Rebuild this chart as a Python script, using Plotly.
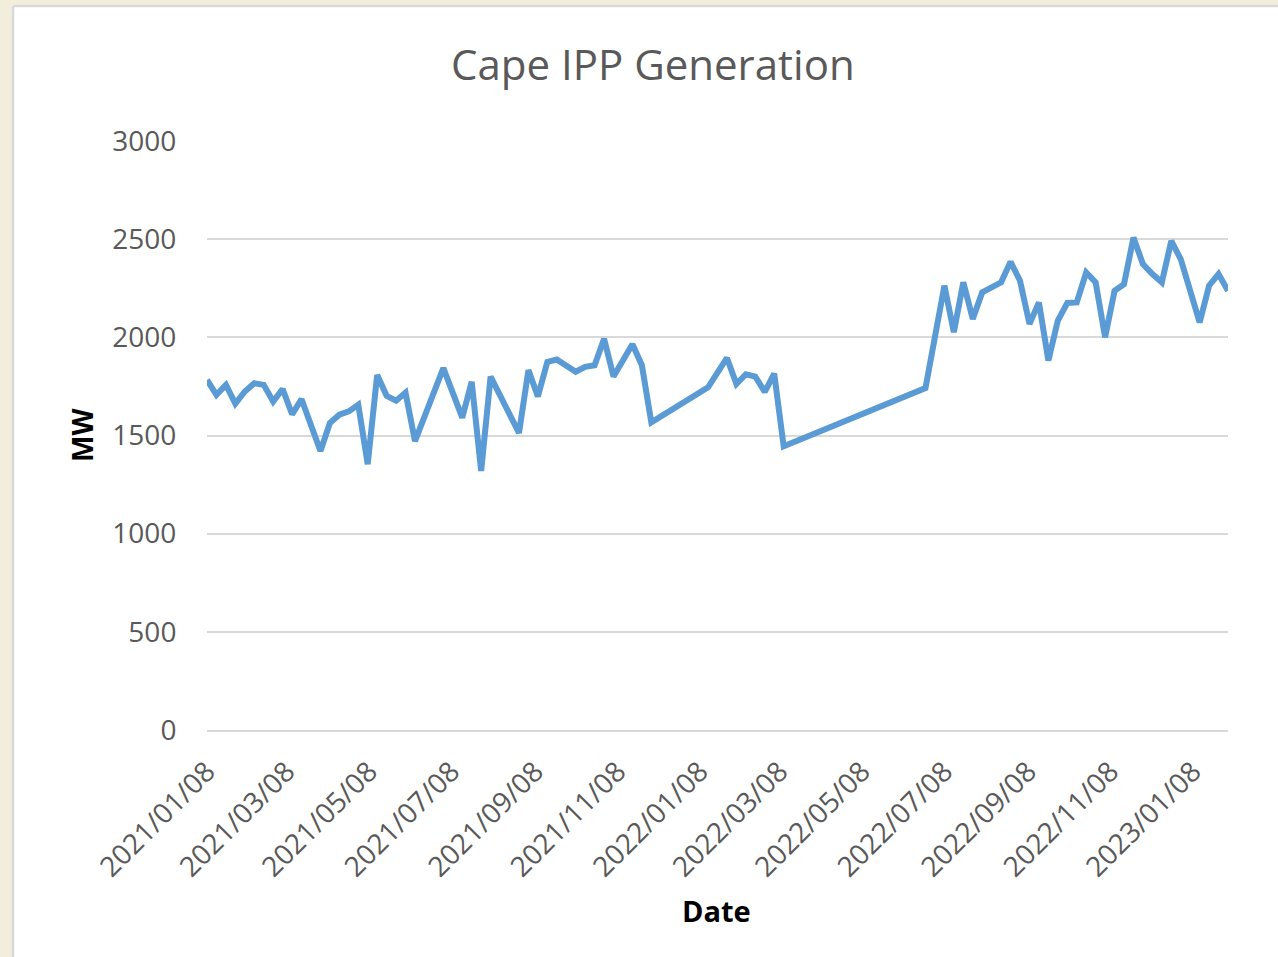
import plotly.graph_objects as go

# Data (weekly readings, MW)
dates = [
    "2021-01-08", "2021-01-15", "2021-01-22", "2021-01-29", "2021-02-05", "2021-02-12",
    "2021-02-19", "2021-02-26", "2021-03-05", "2021-03-12", "2021-03-19", "2021-04-02",
    "2021-04-09", "2021-04-16", "2021-04-23", "2021-04-30", "2021-05-07", "2021-05-14",
    "2021-05-21", "2021-05-28", "2021-06-04", "2021-06-11", "2021-07-02", "2021-07-16",
    "2021-07-23", "2021-07-30", "2021-08-06", "2021-08-27", "2021-09-03", "2021-09-10",
    "2021-09-17", "2021-09-24", "2021-10-08", "2021-10-15", "2021-10-22", "2021-10-29",
    "2021-11-05", "2021-11-19", "2021-11-26", "2021-12-03", "2022-01-14", "2022-01-28",
    "2022-02-04", "2022-02-11", "2022-02-18", "2022-02-25", "2022-03-04", "2022-03-11",
    "2022-06-24", "2022-07-08", "2022-07-15", "2022-07-22", "2022-07-29", "2022-08-05",
    "2022-08-19", "2022-08-26", "2022-09-02", "2022-09-09", "2022-09-16", "2022-09-23",
    "2022-09-30", "2022-10-07", "2022-10-14", "2022-10-21", "2022-10-28", "2022-11-04",
    "2022-11-11", "2022-11-18", "2022-11-25", "2022-12-02", "2022-12-09", "2022-12-16",
    "2022-12-23", "2022-12-30", "2023-01-13", "2023-01-20", "2023-01-27", "2023-02-03",
]
mw = [
    1783, 1707, 1758, 1662, 1724, 1766,
    1758, 1673, 1737, 1608, 1685, 1421,
    1564, 1606, 1623, 1657, 1354, 1808,
    1702, 1677, 1718, 1471, 1843, 1591,
    1774, 1320, 1800, 1513, 1833, 1699,
    1875, 1887, 1825, 1850, 1858, 1993,
    1800, 1965, 1858, 1567, 1745, 1895,
    1762, 1812, 1800, 1722, 1815, 1445,
    1742, 2263, 2026, 2280, 2094, 2229,
    2280, 2385, 2288, 2068, 2178, 1882,
    2085, 2175, 2178, 2330, 2280, 2000,
    2237, 2271, 2508, 2373, 2322, 2280,
    2491, 2398, 2076, 2263, 2322, 2237,
]

title_text = "Cape IPP Generation"
x_title = "Date"
y_title = "MW"

W, H = 1278, 957
L, R, T, B = 207, 50, 141, 227
PW, PH = W - L - R, H - T - B


def px(x):
    return (x - L) / PW


def py(y):
    return (H - B - y) / PH


fig = go.Figure()
fig.add_trace(go.Scatter(
    x=dates, y=mw, mode="lines",
    line=dict(color="#5b9bd5", width=6),
    showlegend=False,
))

font = "Open Sans, DejaVu Sans, sans-serif"

fig.update_layout(
    width=W, height=H,
    margin=dict(l=L, r=R, t=T, b=B, pad=0),
    paper_bgcolor="white",
    plot_bgcolor="white",
    font=dict(family=font, color="#595959"),
    xaxis=dict(
        type="date",
        range=["2021-01-08", "2023-02-03"],
        tick0="2021-01-08", dtick="M2",
        tickformat="%Y/%m/%d",
        tickangle=-45,
        tickfont=dict(size=28, color="#595959"),
        ticks="outside", ticklen=12, tickcolor="rgba(0,0,0,0)",
        showgrid=False, zeroline=False,
        showline=True, linecolor="#d9d9d9", linewidth=2,
    ),
    yaxis=dict(
        range=[0, 3000], dtick=500, tick0=0,
        tickfont=dict(size=28, color="#595959"),
        ticks="outside", ticklen=24, tickcolor="rgba(0,0,0,0)",
        showgrid=True, gridcolor="#d9d9d9", gridwidth=2,
        zeroline=False, showline=False,
    ),
    annotations=[
        dict(text=title_text, x=px(653), y=py(64), xref="paper", yref="paper",
             showarrow=False, xanchor="center", yanchor="middle",
             font=dict(size=42, color="#595959", family=font)),
        dict(text="<b>" + x_title + "</b>", x=px(716), y=py(910), xref="paper", yref="paper",
             showarrow=False, xanchor="center", yanchor="middle",
             font=dict(size=29, color="#000000", family=font)),
        dict(text="<b>" + y_title + "</b>", x=px(82), y=py(435), xref="paper", yref="paper",
             showarrow=False, xanchor="center", yanchor="middle", textangle=-90,
             font=dict(size=28, color="#000000", family=font)),
    ],
    shapes=[
        # faint background outside the chart area
        dict(type="rect", xref="paper", yref="paper", x0=px(0), x1=px(12), y0=py(H), y1=py(0),
             fillcolor="#f3eedc", line=dict(width=0), layer="below"),
        dict(type="rect", xref="paper", yref="paper", x0=px(0), x1=px(W), y0=py(5), y1=py(0),
             fillcolor="#f3eedc", line=dict(width=0), layer="below"),
        # chart area border
        dict(type="line", xref="paper", yref="paper", x0=px(13), x1=px(13), y0=py(H), y1=py(6),
             line=dict(color="#d9d9d9", width=2.5)),
        dict(type="line", xref="paper", yref="paper", x0=px(13), x1=px(W), y0=py(6), y1=py(6),
             line=dict(color="#d9d9d9", width=2.5)),
    ],
)

fig.write_html("out.html", config={"displayModeBar": False},
               post_script="document.body.style.margin='0';")
